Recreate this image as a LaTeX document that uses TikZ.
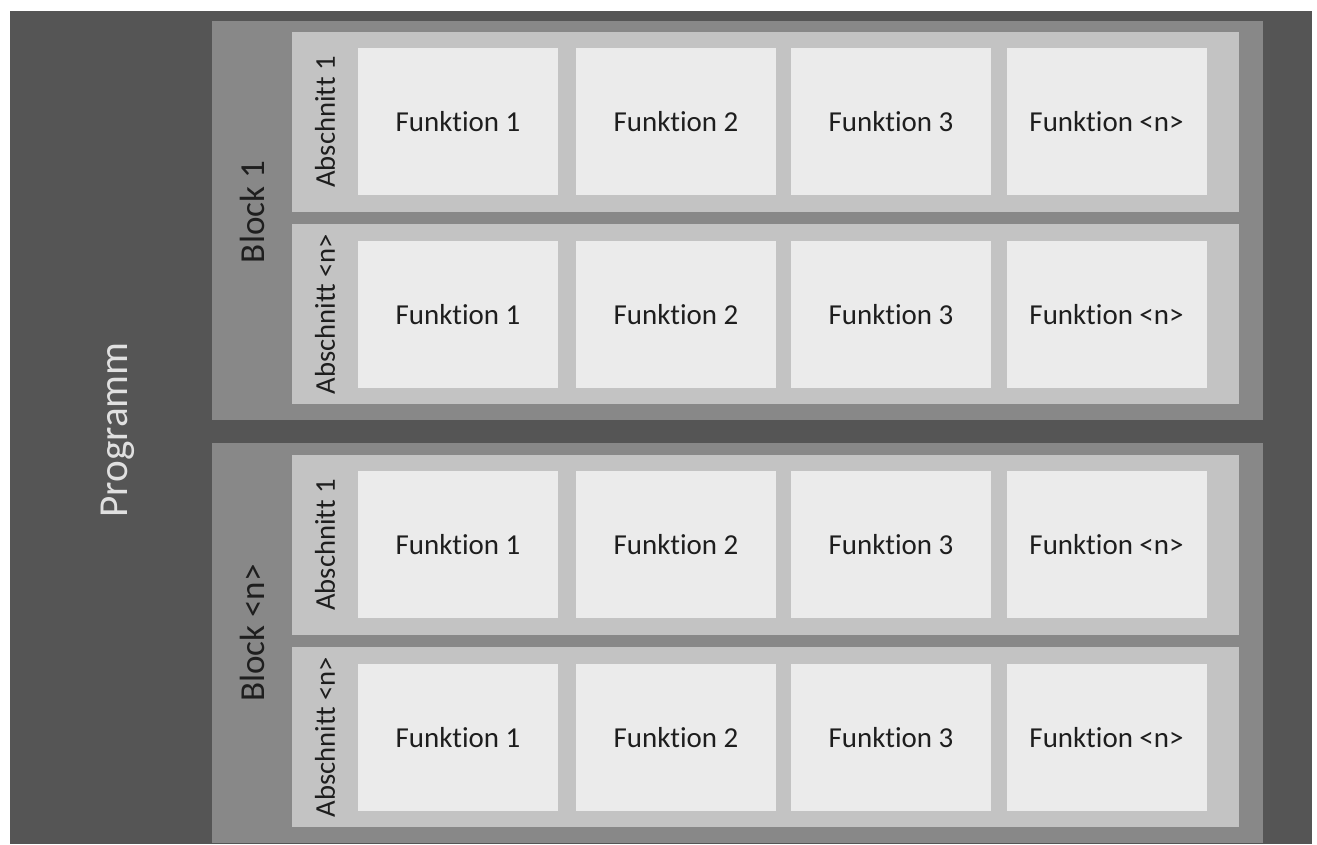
\documentclass[tikz,border=0pt]{standalone}
\usepackage{fontspec}
\setmainfont{Carlito}[RawFeature={-liga;-clig;-calt;-dlig}]

\definecolor{programmgrau}{RGB}{85,85,85}
\definecolor{blockgrau}{RGB}{136,136,136}
\definecolor{abschnittgrau}{RGB}{195,195,195}
\definecolor{funktiongrau}{RGB}{235,235,235}
\definecolor{textgrau}{RGB}{30,30,30}

\tikzset{every picture/.style={line width=0.75pt}}
\tikzset{
  funktion/.style={fill=funktiongrau, minimum width=150pt, minimum height=110.25pt, inner sep=0pt, text=textgrau, font=\fontsize{21.7}{26}\selectfont},
  abschnittlabel/.style={rotate=90, inner sep=0.75pt, text=textgrau, font=\fontsize{21.5}{26}\selectfont},
  blocklabel/.style={rotate=90, inner sep=0.75pt, text=textgrau, font=\fontsize{26.3}{31}\selectfont},
  programmlabel/.style={rotate=90, inner sep=0.75pt, text=white!88!black, font=\fontsize{30.9}{37}\selectfont}
}

\begin{document}
\begin{tikzpicture}[x=0.75pt,y=0.75pt,yscale=-1,xscale=1]
        \useasboundingbox (0,0) rectangle (1317,845);

        %Shape: Rectangle [Programm]
        \fill[programmgrau] (10,11) rectangle (1312,844);
        %Shape: Rectangle [Block 1]
        \fill[blockgrau] (212,21) rectangle (1263,420);
        %Shape: Rectangle [Block n]
        \fill[blockgrau] (212,443) rectangle (1263,843);

        %Shape: Rectangle [Abschnitte]
        \fill[abschnittgrau] (292,32) rectangle (1239,212);
        \fill[abschnittgrau] (292,224) rectangle (1239,404);
        \fill[abschnittgrau] (292,455) rectangle (1239,635);
        \fill[abschnittgrau] (292,647) rectangle (1239,827);

        % Block 1, Abschnitt 1
        \node[funktion] (b1a1f1) at (458,122) {Funktion 1};
        \node[funktion] (b1a1f2) at (676,122) {Funktion 2};
        \node[funktion] (b1a1f3) at (891,122) {Funktion 3};
        \node[funktion] (b1a1fn) at (1106.5,122) {Funktion <n>};
        % Block 1, Abschnitt n
        \node[funktion] (b1anf1) at (458,314.5) {Funktion 1};
        \node[funktion] (b1anf2) at (676,314.5) {Funktion 2};
        \node[funktion] (b1anf3) at (891,314.5) {Funktion 3};
        \node[funktion] (b1anfn) at (1106.5,314.5) {Funktion <n>};
        % Block n, Abschnitt 1
        \node[funktion] (bna1f1) at (458,544.5) {Funktion 1};
        \node[funktion] (bna1f2) at (676,544.5) {Funktion 2};
        \node[funktion] (bna1f3) at (891,544.5) {Funktion 3};
        \node[funktion] (bna1fn) at (1106.5,544.5) {Funktion <n>};
        % Block n, Abschnitt n
        \node[funktion] (bnanf1) at (458,737.5) {Funktion 1};
        \node[funktion] (bnanf2) at (676,737.5) {Funktion 2};
        \node[funktion] (bnanf3) at (891,737.5) {Funktion 3};
        \node[funktion] (bnanfn) at (1106.5,737.5) {Funktion <n>};

        % Text Node
        \node[abschnittlabel] (b1a1) at (325,122) {Abschnitt 1};
        \node[abschnittlabel] (b1an) at (325,314) {Abschnitt <n>};
        \node[abschnittlabel] (bna1) at (325,545) {Abschnitt 1};
        \node[abschnittlabel] (bnan) at (325,737) {Abschnitt <n>};
        % Text Node
        \node[blocklabel] (block1) at (252,212) {Block 1};
        \node[blocklabel] (blockn) at (252,633) {Block <n>};
        % Text Node
        \node[programmlabel] (programm) at (118,430) {Programm};
\end{tikzpicture}
\end{document}
